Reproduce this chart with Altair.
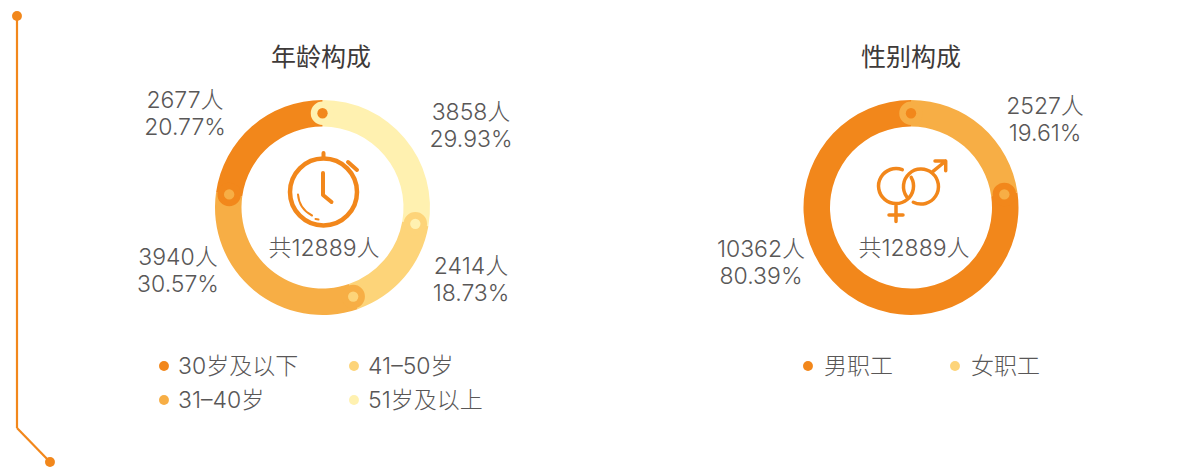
import math
import altair as alt
import pandas as pd

# ---- values ----
age_groups = ["51岁及以上", "41–50岁", "31–40岁", "30岁及以下"]
age_counts = [3858, 2414, 3940, 2677]
age_pcts = ["29.93%", "18.73%", "30.57%", "20.77%"]
age_drawn_deg = [100, 61, 117, 82]      # sweep of each ring segment as drawn

sex_groups = ["女职工", "男职工"]
sex_counts = [2527, 10362]
sex_pcts = ["19.61%", "80.39%"]
sex_drawn_deg = [82, 278]

total_label = "共12889人"

DARK, MID, SOFT, PALE = "#F2871B", "#F7AE45", "#FDD479", "#FFF1B0"
age_colors = [PALE, SOFT, MID, DARK]
sex_colors = [MID, DARK]
legend_age_colors = [DARK, SOFT, MID, PALE]
legend_sex_colors = [DARK, SOFT]
INK = "#595757"
TITLE_INK = "#3E3A39"
FONT = "Inter, 'Noto Sans CJK SC', sans-serif"

OFF = 8  # page margin
R_OUT, R_IN = 107.5, 81
R_MID = (R_OUT + R_IN) / 2


def px(v):
    return alt.value(v - OFF)


def ring_table(groups, sweeps, colors):
    rows, a = [], 0
    n = len(groups)
    for i, (g, s) in enumerate(zip(groups, sweeps)):
        rows.append({"group": g, "a0": a, "a1": a + s, "color": colors[i], "prev": colors[(i - 1) % n]})
        a += s
    return pd.DataFrame(rows)


def donut(table, cx, cy):
    theta_scale = alt.Scale(domain=[0, 360], range=[0, 2 * math.pi])
    arcs = alt.Chart(table).mark_arc(innerRadius=R_IN, outerRadius=R_OUT).encode(
        theta=alt.Theta("a0:Q", scale=theta_scale),
        theta2="a1:Q",
        color=alt.Color("color:N", scale=None),
        x=px(cx), y=px(cy),
    )
    pos = alt.Chart(table).transform_calculate(
        px=f"{cx - OFF} + {R_MID} * sin(datum.a0 * PI / 180)",
        py=f"{cy - OFF} - {R_MID} * cos(datum.a0 * PI / 180)",
    )
    enc = dict(x=alt.X("px:Q", scale=None, axis=None), y=alt.Y("py:Q", scale=None, axis=None))
    caps = pos.mark_circle(size=math.pi * (R_OUT - R_IN) ** 2 / 4, opacity=1).encode(
        color=alt.Color("color:N", scale=None), **enc)
    dots = pos.mark_circle(size=107, opacity=1).encode(
        color=alt.Color("prev:N", scale=None), **enc)
    return [arcs, caps, dots]


def txt(s, x, y, size=23, color=INK, align="center", weight=300):
    return alt.Chart(alt.Data(values=[{"t": s}])).mark_text(
        font=FONT, fontSize=size, fontWeight=weight, color=color, align=align, baseline="middle"
    ).encode(text="t:N", x=px(x), y=px(y))


def dot(x, y, color, r=5.6):
    return alt.Chart(alt.Data(values=[{"k": 1}])).mark_circle(
        size=math.pi * r * r, color=color, opacity=1).encode(x=px(x), y=px(y))


def icon(path, x, y, width):
    return alt.Chart(alt.Data(values=[{"k": 1}])).mark_point(
        shape=path, size=4, filled=False, stroke=DARK, strokeWidth=width,
        strokeCap="round", strokeJoin="round", opacity=1, fill=None,
    ).encode(x=px(x), y=px(y))


def seg(x1, y1, x2, y2):
    return alt.Chart(alt.Data(values=[{"k": 1}])).mark_rule(color=DARK, strokeWidth=2.2).encode(
        x=px(x1), y=px(y1), x2=px(x2), y2=px(y2))


layers = [
    seg(17, 16, 17, 428), seg(17, 428, 50, 462),
    dot(17, 16, DARK), dot(50, 462, DARK),
    txt("年龄构成", 321, 58, 25, TITLE_INK, weight=400),
    txt("性别构成", 911, 58, 25, TITLE_INK, weight=400),
]
layers += donut(ring_table(age_groups, age_drawn_deg, age_colors), 322.5, 207.5)
layers += donut(ring_table(sex_groups, sex_drawn_deg, sex_colors), 911, 207.5)

age_label_pos = [(471, 113), (471, 267), (178, 258), (185, 101)]
for c, p, (x, y) in zip(age_counts, age_pcts, age_label_pos):
    layers += [txt(f"{c}人", x, y), txt(p, x, y + 27)]
sex_label_pos = [(1045, 107), (761, 250)]
for c, p, (x, y) in zip(sex_counts, sex_pcts, sex_label_pos):
    layers += [txt(f"{c}人", x, y), txt(p, x, y + 27)]

layers += [txt(total_label, 324, 249), txt(total_label, 914, 249)]

# legends
legend_age = ["30岁及以下", "41–50岁", "31–40岁", "51岁及以上"]
legend_age_xy = [(164, 366), (354, 366), (164, 400), (354, 400)]
for name, col, (x, y) in zip(legend_age, legend_age_colors, legend_age_xy):
    layers += [dot(x, y, col), txt(name, x + 14, y + 1, align="left")]
legend_sex = ["男职工", "女职工"]
legend_sex_xy = [(808, 366), (955, 366)]
for name, col, (x, y) in zip(legend_sex, legend_sex_colors, legend_sex_xy):
    layers += [dot(x, y, col), txt(name, x + 16, y + 1, align="left")]

# icons
layers += [
    icon("M-33.5,0 A33.5,33.5 0 1,1 33.5,0 A33.5,33.5 0 1,1 -33.5,0 Z", 323.5, 192, 4.5),
    icon("M0,-39 L0,-34 M24.5,-30 L33.5,-22 M-0.5,-19 L-0.5,3 L8,10", 323.5, 192, 4),
    icon("M-25.5,2.5 A26,26 0 0 0 -11.5,23.5 M-8,27 L-5,27.5", 323.5, 192, 2),
    icon("M-5.7,-16.3 A17.5,17.5 0 1 0 3.2,-8.7 M-1.3,10.7 A17.5,17.5 0 1 1 5.3,16.3 "
         "M-12,19 L-12,35.5 M-19,29 L-5,29 M24.7,-14.3 L37.7,-25 M27,-25 L37.7,-25 L37.7,-15.3",
         908, 186, 3.5),
]

chart = alt.layer(*layers).properties(
    width=1186, height=459, padding=0, background="white",
    autosize=alt.AutoSizeParams(type="none"),
).configure_view(stroke=None)

chart.save("out.html", embed_options={"renderer": "svg", "actions": False})
